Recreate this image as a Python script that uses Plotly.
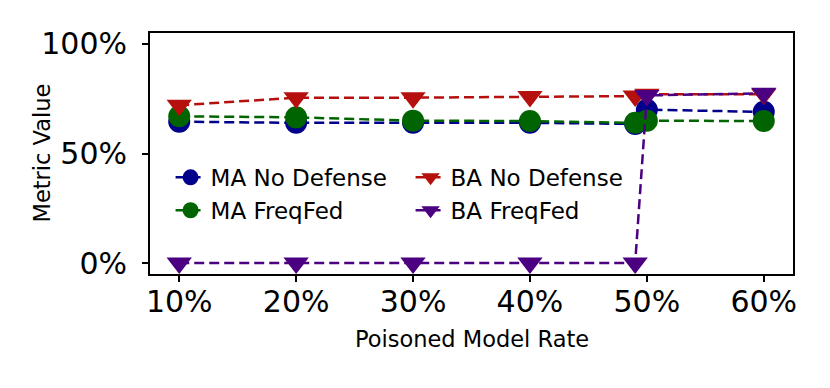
import plotly.graph_objects as go

rates = [10, 20, 30, 40, 49, 50, 60]
tick_vals = [10, 20, 30, 40, 50, 60]
tick_text = ["10%", "20%", "30%", "40%", "50%", "60%"]

ma_no_defense = [0.645, 0.640, 0.640, 0.640, 0.635, 0.700, 0.690]
ma_freqfed = [0.670, 0.665, 0.650, 0.648, 0.640, 0.650, 0.648]
ba_no_defense = [0.720, 0.755, 0.755, 0.760, 0.762, 0.770, 0.770]
ba_freqfed = [0.0, 0.0, 0.0, 0.0, 0.0, 0.765, 0.775]

series = [
    ("MA No Defense", ma_no_defense, "#00008B", "circle", 1),
    ("MA FreqFed", ma_freqfed, "#006400", "circle", 3),
    ("BA No Defense", ba_no_defense, "#B5100D", "triangle-down", 2),
    ("BA FreqFed", ba_freqfed, "#4B0082", "triangle-down", 4),
]

fig = go.Figure()
for name, vals, color, sym, rank in series:
    fig.add_trace(go.Scatter(
        x=rates, y=vals, name=name, mode="lines+markers",
        line=dict(color=color, width=2.5, dash="10px,5px"),
        marker=dict(color=color, symbol=sym, size=22, line=dict(width=0)),
        legendrank=rank,
    ))

font = "DejaVu Sans"
fig.update_layout(
    width=822, height=380,
    margin=dict(l=142, r=37, t=25, b=114),
    plot_bgcolor="white", paper_bgcolor="white",
    font=dict(family=font, color="black", size=30),
    showlegend=True,
    legend=dict(
        orientation="h", x=0.032, y=0.49, xanchor="left", yanchor="top",
        entrywidth=195, entrywidthmode="pixels",
        font=dict(size=23, family=font),
        bgcolor="rgba(0,0,0,0)", tracegroupgap=0,
    ),
    xaxis=dict(
        range=[7.5, 62.5], tickvals=tick_vals, ticktext=tick_text,
        showline=True, linecolor="black", linewidth=2, mirror=True,
        ticks="outside", ticklen=6, tickwidth=2, tickcolor="black",
        showgrid=False, zeroline=False, ticklabelstandoff=-6,
        tickfont=dict(size=30, family=font),
    ),
    yaxis=dict(
        range=[-0.05, 1.05], tickvals=[0, 0.5, 1.0], tickformat=".0%",
        showline=True, linecolor="black", linewidth=2, mirror=True,
        ticks="outside", ticklen=6, tickwidth=2, tickcolor="black",
        showgrid=False, zeroline=False, ticklabelstandoff=9,
        tickfont=dict(size=30, family=font),
    ),
    annotations=[
        dict(text="Poisoned Model Rate", xref="paper", yref="paper",
             x=0.5, y=-0.27, xanchor="center", yanchor="middle",
             showarrow=False, font=dict(size=22.5, family=font)),
        dict(text="Metric Value", xref="paper", yref="paper",
             x=-0.168, y=0.504, xanchor="center", yanchor="middle", textangle=-90,
             showarrow=False, font=dict(size=22.5, family=font)),
    ],
)

fig.write_html("out.html")
